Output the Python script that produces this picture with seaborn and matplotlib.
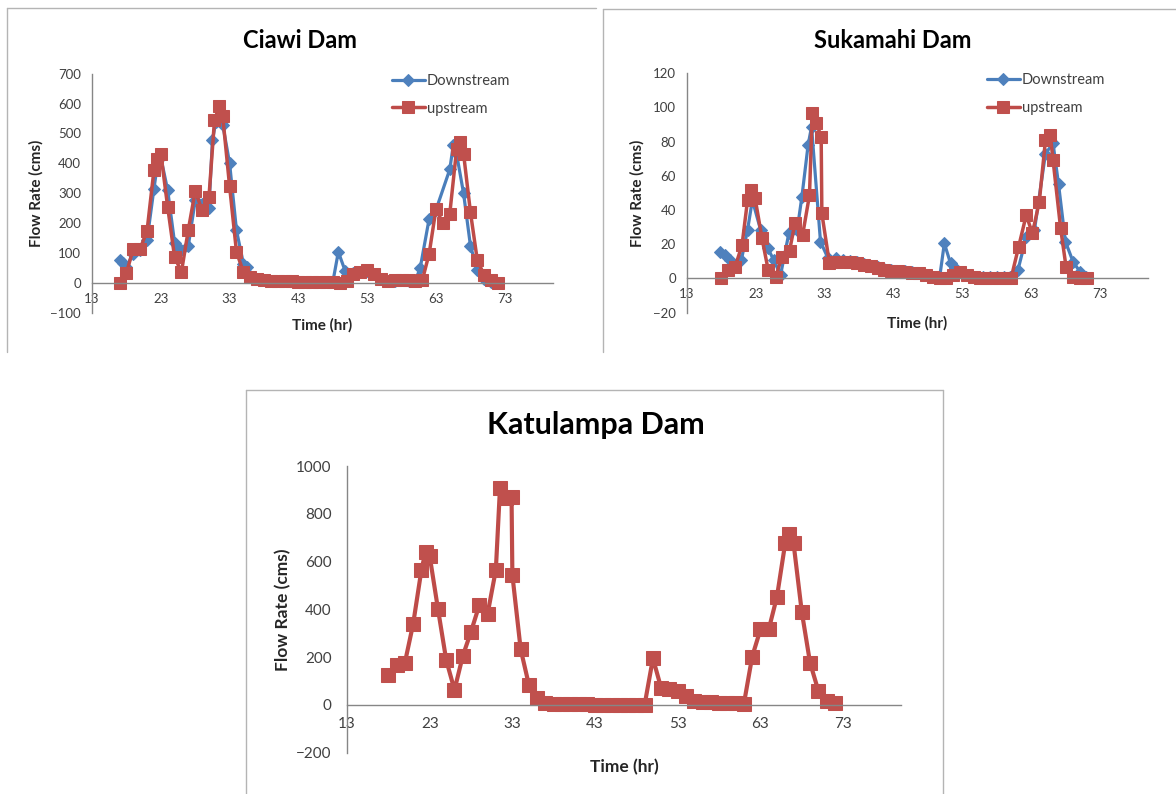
import matplotlib
matplotlib.use("Agg")
import matplotlib.pyplot as plt
from matplotlib.lines import Line2D
import seaborn as sns

# ---------------- data: flow rate (cms) against time (hr) ----------------
hour_ticks = [13, 23, 33, 43, 53, 63, 73]

ciawi_down_t = [17, 17.5, 18, 19, 20, 21, 22, 22.5, 23, 24,
                25, 25.5, 26, 27, 28, 29, 30, 30.5, 31, 31.5,
                32, 33, 34, 35, 35.5, 36, 37, 38, 39, 40,
                41, 42, 43, 44, 45, 46, 47, 48, 48.8, 49.8,
                51, 52, 53, 54, 55, 56, 57, 58, 59, 60,
                60.7, 62, 63, 65, 65.5, 66, 67, 68, 69, 70,
                71]
ciawi_down = [76, 67, 55, 98, 110, 143, 315, 395, 420, 310,
              135, 115, 110, 125, 276, 265, 250, 477, 540, 560,
              530, 400, 176, 65, 55, 25, 15, 10, 8, 7,
              6, 6, 5, 5, 4, 4, 3, 3, 104, 40,
              32, 37, 40, 30, 12, 8, 8, 9, 8, 8,
              50, 215, 245, 380, 460, 430, 300, 125, 42, 12,
              2]

ciawi_up_t = [17, 18, 19, 20, 21, 22, 22.5, 23, 24, 25,
              26, 27, 28, 29, 30, 30.8, 31.5, 32, 33, 34,
              35, 36, 37, 38, 39, 40, 41, 42, 43, 44,
              45, 46, 47, 48, 49, 50, 51, 52, 53, 54,
              55, 56, 57, 58, 59, 60, 61, 62, 63, 64,
              65, 66, 66.5, 67, 68, 69, 70, 71, 72]
ciawi_up = [0, 33, 115, 115, 174, 377, 416, 433, 254, 87,
            37, 178, 308, 243, 288, 544, 591, 557, 323, 104,
            37, 20, 12, 9, 8, 7, 6, 6, 5, 5,
            4, 4, 3, 2, 0, 8, 31, 37, 42, 31,
            15, 8, 9, 10, 9, 8, 9, 98, 249, 199,
            232, 449, 471, 433, 237, 76, 26, 9, 0]

sukamahi_down_t = [17.8, 18.5, 19.2, 20, 20.9, 21.8, 22.5, 23.7, 24.7, 25.6,
                   26.6, 27.8, 29, 29.7, 30.6, 31.1, 32.4, 33.5, 34.7, 35.7,
                   36.7, 37.7, 38.7, 39.7, 40.7, 41.7, 42.7, 43.7, 44.7, 45.7,
                   46.7, 47.7, 48.7, 49.7, 50.4, 51.3, 52, 53, 54, 55,
                   56, 57, 58, 59, 60, 61.1, 62.3, 63.5, 65.1, 66.2,
                   67, 68, 69.1, 70.1, 71]
sukamahi_down = [15.6, 13.6, 10.7, 7, 10.7, 28.3, 45.8, 28.3, 18, 10.7,
                 2, 26.3, 28, 47.8, 78, 88.7, 21.5, 11.7, 12, 10.5,
                 10, 9.5, 8.5, 7.5, 6.5, 5.5, 5, 4.5, 4, 3.5,
                 3, 2, 1, 0, 20.5, 8.8, 5.9, 3.5, 2, 1,
                 1, 1, 1, 1, 1, 4.9, 24, 28.3, 73, 79,
                 55, 21.5, 9.8, 3.9, 1]

sukamahi_up_t = [18, 19, 20, 21, 21.8, 22.3, 22.9, 23.9, 24.8, 25.9,
                 26.8, 27.9, 28.7, 29.8, 30.8, 31.2, 31.8, 32.5, 32.6, 33.7,
                 34.7, 35.7, 36.7, 37.7, 38.7, 39.7, 40.7, 41.7, 42.7, 43.7,
                 44.7, 45.7, 46.7, 47.7, 48.7, 49.7, 50.7, 51.7, 52.7, 53.7,
                 54.7, 55.6, 56.5, 57.4, 58.3, 59.2, 60.1, 61.2, 62.3, 63.2,
                 64.2, 65.1, 65.8, 66.2, 67.3, 68.1, 69.1, 70.1, 71.1]
sukamahi_up = [0, 4.9, 6.8, 19.5, 45.8, 51.7, 46.8, 23.4, 4.9, 1,
               12.6, 16.1, 32.5, 25.3, 48.7, 96.5, 91, 82.8, 38, 8.8,
               9.8, 9.8, 9.5, 9, 8, 7, 6, 5, 4.5, 4,
               3.5, 3, 3, 2, 1, 0, 0, 2, 3.5, 2,
               0.5, 0, 0, 0, 0, 0, 0, 18.5, 37, 26.3,
               44.8, 80.9, 83.8, 69.2, 29.3, 6.4, 1, 0, 0]

katulampa_t = [18, 19, 20, 21, 22, 22.5, 23, 24, 25, 26,
               27, 28, 29, 30, 31, 31.5, 32.2, 32.9, 33, 34,
               35, 36, 37, 38, 39, 40, 41, 42, 43, 44,
               45, 46, 47, 48, 49, 50, 51, 52, 53, 54,
               55, 56, 57, 58, 59, 60, 61, 62, 63, 64,
               65, 66, 66.5, 67, 68, 69, 70, 71, 72]
katulampa = [126, 167, 177, 339, 565, 641, 623, 402, 188, 63,
             205, 307, 418, 381, 565, 907, 865, 872, 544, 234,
             84, 28, 8, 6, 5, 4, 3, 3, 2, 2,
             2, 2, 2, 2, 2, 195, 70, 66, 60, 38,
             18, 12, 11, 10, 9, 7, 5, 202, 316, 316,
             453, 678, 715, 678, 390, 177, 60, 18, 7]

# ---------------- styling ----------------
sns.set_style("white")
plt.rcParams["font.family"] = ["Lato", "DejaVu Sans"]

W, H = 1176, 794
BLUE_LINE, BLUE_MARK = "#4A7EBB", "#4F81BD"
RED_LINE, RED_MARK = "#BE4B48", "#C0504D"
AXIS_GREY = "#868686"
TEXT_GREY = "#404040"
FRAME_GREY = "#b4b4b4"

fig = plt.figure(figsize=(W / 100, H / 100), dpi=100)
fig.patch.set_facecolor("white")


def px_rect(left, top, right, bottom):
    """Axes rectangle from pixel edges measured from the top-left corner."""
    return [left / W, 1 - bottom / H, (right - left) / W, (bottom - top) / H]


def frame_line(x0, y0, x1, y1):
    fig.add_artist(Line2D([x0 / W, x1 / W], [1 - y0 / H, 1 - y1 / H],
                          transform=fig.transFigure, color=FRAME_GREY, lw=1.0))


def style_axes(ax, yticks, tick_size, label_size, ylabel_x, xlabel_y, ypad, xpad):
    ax.set_xlim(13, 80)
    ax.set_ylim(yticks[0], yticks[-1])
    ax.set_xticks(hour_ticks)
    ax.set_yticks(yticks)
    for side in ("top", "right"):
        ax.spines[side].set_visible(False)
    ax.spines["bottom"].set_position(("data", 0))
    for side in ("left", "bottom"):
        ax.spines[side].set_color(AXIS_GREY)
        ax.spines[side].set_linewidth(1.0)
    ax.tick_params(axis="both", length=0, labelsize=tick_size, labelcolor=TEXT_GREY)
    ax.tick_params(axis="y", pad=ypad)
    ax.tick_params(axis="x", pad=xpad)
    ax.grid(False)
    ax.patch.set_alpha(0)
    ax.set_xlabel("Time (hr)", fontsize=label_size, fontweight="bold", color="#262626")
    ax.set_ylabel("Flow Rate (cms)", fontsize=label_size, fontweight="bold", color="#262626")
    ax.xaxis.set_label_coords(0.5, xlabel_y)
    ax.yaxis.set_label_coords(ylabel_x, 0.5)


def add_legend(ax, size):
    ax.legend(loc="upper left", bbox_to_anchor=(0.65, 1.0), frameon=False,
              fontsize=size, borderpad=0, borderaxespad=0, handlelength=2.3,
              handletextpad=0.12, labelspacing=0.95, labelcolor=TEXT_GREY)


def draw_pair(ax, t_down, v_down, t_up, v_up, sq_size):
    sns.lineplot(x=t_down, y=v_down, ax=ax, sort=False, estimator=None,
                 color=BLUE_LINE, linewidth=2.3, marker="D", markersize=6,
                 markerfacecolor=BLUE_MARK, markeredgecolor=BLUE_MARK,
                 label="Downstream")
    sns.lineplot(x=t_up, y=v_up, ax=ax, sort=False, estimator=None,
                 color=RED_LINE, linewidth=2.5, marker="s", markersize=sq_size,
                 markerfacecolor=RED_MARK, markeredgecolor=RED_MARK,
                 label="upstream")


# panel outlines
frame_line(7, 8, 7, 352)
frame_line(7, 8, 596, 8)
frame_line(603, 9, 603, 352)
frame_line(603, 9, 1176, 9)
frame_line(246, 390, 246, 794)
frame_line(246, 390, 943, 390)
frame_line(943, 390, 943, 794)

# Ciawi Dam
ax1 = fig.add_axes(px_rect(92, 73.7, 553, 312.9))
draw_pair(ax1, ciawi_down_t, ciawi_down, ciawi_up_t, ciawi_up, 9)
style_axes(ax1, list(range(-100, 701, 100)), 9.5, 11, -0.106, -0.021, 8, 7)
add_legend(ax1, 10.5)
fig.text(300 / W, 1 - 40 / H, "Ciawi Dam", ha="center", va="center",
         fontsize=17, fontweight="bold", color="black")

# Sukamahi Dam
ax2 = fig.add_axes(px_rect(687, 73.3, 1148, 312.5))
draw_pair(ax2, sukamahi_down_t, sukamahi_down, sukamahi_up_t, sukamahi_up, 8)
style_axes(ax2, list(range(-20, 121, 20)), 9.5, 11, -0.091, -0.015, 8, 7)
add_legend(ax2, 10.5)
fig.text(893 / W, 1 - 40 / H, "Sukamahi Dam", ha="center", va="center",
         fontsize=17, fontweight="bold", color="black")

# Katulampa Dam
ax3 = fig.add_axes(px_rect(347, 466, 901, 752.8))
sns.lineplot(x=katulampa_t, y=katulampa, ax=ax3, sort=False, estimator=None,
             color=RED_LINE, linewidth=3.0, marker="s", markersize=10,
             markerfacecolor=RED_MARK, markeredgecolor=RED_MARK, legend=False)
style_axes(ax3, list(range(-200, 1001, 200)), 11, 12.5, -0.101, -0.022, 11, 9)
fig.text(596 / W, 1 - 425 / H, "Katulampa Dam", ha="center", va="center",
         fontsize=22, fontweight="bold", color="black")

fig.savefig("out.png", dpi=100, facecolor="white")
